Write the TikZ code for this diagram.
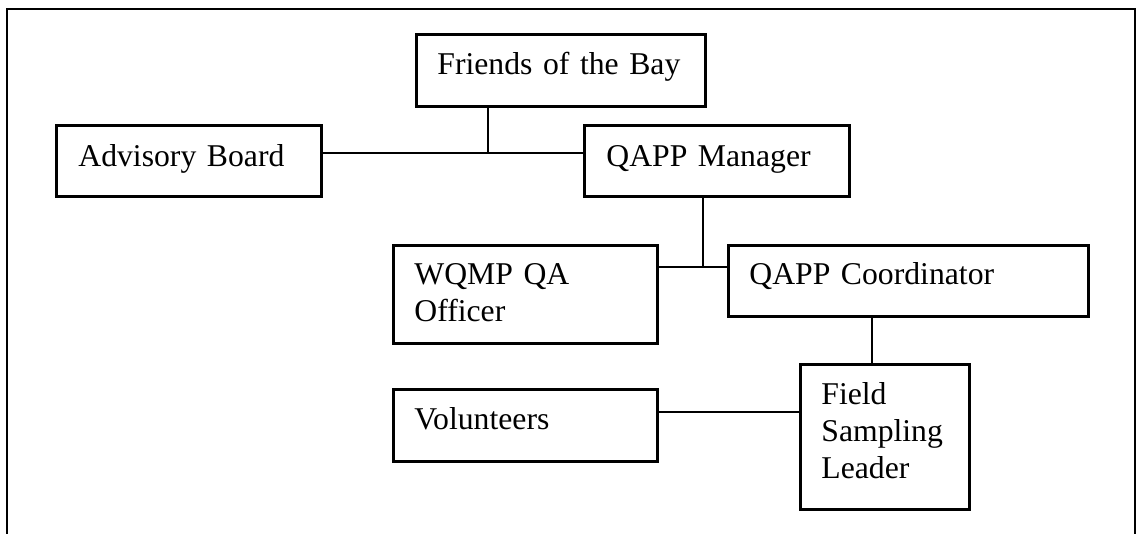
\documentclass[tikz,border=0pt]{standalone}
\usepackage{fontspec}
\setmainfont{Liberation Serif}
\begin{document}
\begin{tikzpicture}[x=1pt,y=-1pt,
  box/.style={draw, line width=2.8pt, rectangle, anchor=north west, inner ysep=0pt, align=left,
    font=\fontsize{31.7}{37}\selectfont},
  link/.style={draw, line width=2.4pt},
  frame/.style={draw, line width=2.8pt}]
\useasboundingbox (0,0) rectangle (1138,534);
\draw[frame] (7,534) -- (7,9) -- (1135,9) -- (1135,534);
% boxes: inner xsep = left text offset, text width = w - 2*offset, text height = first baseline, text depth = h - baseline
\node[box, inner xsep=21pt, text width=247pt, text height=40pt, text depth=32pt] (fob) at (415,33) {Friends of the Bay};
\node[box, inner xsep=22pt, text width=221pt, text height=41pt, text depth=30pt] (ab) at (55,124) {Advisory Board};
\node[box, inner xsep=22pt, text width=221pt, text height=41pt, text depth=30pt] (qm) at (583,124) {QAPP Manager};
\node[box, inner xsep=21pt, text width=222pt, text height=39pt, text depth=59pt] (wq) at (392,244) {WQMP QA\\Officer};
\node[box, inner xsep=21pt, text width=318pt, text height=39pt, text depth=32pt] (qc) at (727,244) {QAPP Coordinator};
\node[box, inner xsep=21pt, text width=127pt, text height=40pt, text depth=105pt] (fsl) at (799,363) {Field\\Sampling\\Leader};
\node[box, inner xsep=21pt, text width=222pt, text height=40pt, text depth=32pt] (vol) at (392,388) {Volunteers};
% junction points
\coordinate (j1) at (488,153);
\coordinate (j2) at (703,267);
\coordinate (j3) at (872,300);
\coordinate (j4) at (700,412);
% connectors
\draw[link] (j1 -| ab.east) -- (j1 -| qm.west);
\draw[link] (fob.south -| j1) -- (j1);
\draw[link] (qm.south -| j2) -- (j2);
\draw[link] (j2 -| wq.east) -- (j2 -| qc.west);
\draw[link] (qc.south -| j3) -- (fsl.north -| j3);
\draw[link] (j4 -| vol.east) -- (j4 -| fsl.west);
\end{tikzpicture}
\end{document}
